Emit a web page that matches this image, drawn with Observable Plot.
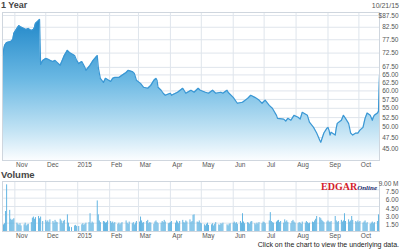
<!DOCTYPE html>
<html><head><meta charset="utf-8">
<script src="https://cdn.jsdelivr.net/npm/d3@7"></script>
<script src="https://cdn.jsdelivr.net/npm/@observablehq/plot@0.6"></script>
<style>
html,body{margin:0;padding:0;background:#fff;}
#wrap{position:relative;width:400px;height:249px;overflow:hidden;font-family:"Liberation Sans",Arial,sans-serif;}
.t{position:absolute;white-space:nowrap;line-height:1;}
#wrap svg{position:absolute;left:0;}
</style></head><body>
<div id="wrap">
  <div class="t" style="left:1px;top:1px;font-weight:bold;font-size:9px;color:#454545">1 Year</div>
  <div class="t" style="right:1px;top:2px;font-size:7px;color:#555">10/21/15</div>
  <div class="t" style="left:1px;top:170px;font-weight:bold;font-size:9.5px;color:#454545">Volume</div>
  <div class="t" style="right:23px;top:177px;font-family:'Liberation Serif',serif;font-weight:bold;"><span style="color:#d3202a;font-size:10px">EDGAR</span><span style="color:#1d2f6e;font-size:7px;font-style:italic">Online</span></div>
  <div class="t" style="right:1px;top:241px;font-size:7px;color:#222">Click on the chart to view the underlying data.</div>
</div>
<script>
// ---- data ----
const monthStarts = ["2014-11-01","2014-12-01","2015-01-01","2015-02-01","2015-03-01","2015-04-01","2015-05-01","2015-06-01","2015-07-01","2015-08-01","2015-09-01","2015-10-01"];
const monthLabels = ["Nov","Dec","2015","Feb","Mar","Apr","May","Jun","Jul","Aug","Sep","Oct"];
const priceTicks = [45, 47.5, 50, 52.5, 55, 57.5, 60, 62.5, 65, 67.5, 72.5, 77.5, 82.5, 87.5];
const volumeTicks = [1.5, 3, 4.5, 6, 7.5, 9];

const priceDates = ["2014-10-20","2014-10-22","2014-10-24","2014-10-28","2014-10-30","2014-10-31","2014-11-03","2014-11-05","2014-11-06","2014-11-10","2014-11-12","2014-11-14","2014-11-17","2014-11-19","2014-11-20","2014-11-21","2014-11-24","2014-11-25","2014-11-26","2014-11-28","2014-12-01","2014-12-04","2014-12-05","2014-12-08","2014-12-10","2014-12-12","2014-12-15","2014-12-17","2014-12-19","2014-12-22","2014-12-24","2014-12-29","2014-12-31","2015-01-02","2015-01-05","2015-01-08","2015-01-09","2015-01-13","2015-01-16","2015-01-20","2015-01-21","2015-01-23","2015-01-26","2015-01-28","2015-02-02","2015-02-04","2015-02-06","2015-02-10","2015-02-13","2015-02-17","2015-02-19","2015-02-23","2015-02-25","2015-02-27","2015-03-03","2015-03-06","2015-03-10","2015-03-13","2015-03-16","2015-03-18","2015-03-19","2015-03-20","2015-03-23","2015-03-25","2015-03-27","2015-04-01","2015-04-02","2015-04-08","2015-04-13","2015-04-16","2015-04-21","2015-04-24","2015-04-28","2015-04-30","2015-05-05","2015-05-08","2015-05-12","2015-05-15","2015-05-20","2015-05-22","2015-05-26","2015-05-27","2015-06-01","2015-06-05","2015-06-10","2015-06-15","2015-06-18","2015-06-22","2015-06-26","2015-06-29","2015-07-02","2015-07-06","2015-07-09","2015-07-13","2015-07-14","2015-07-20","2015-07-22","2015-07-24","2015-07-27","2015-07-30","2015-08-03","2015-08-05","2015-08-07","2015-08-12","2015-08-14","2015-08-18","2015-08-21","2015-08-24","2015-08-25","2015-08-28","2015-08-31","2015-09-01","2015-09-02","2015-09-03","2015-09-04","2015-09-08","2015-09-09","2015-09-10","2015-09-14","2015-09-16","2015-09-18","2015-09-21","2015-09-22","2015-09-23","2015-09-25","2015-09-28","2015-09-30","2015-10-02","2015-10-05","2015-10-07","2015-10-09","2015-10-12","2015-10-14","2015-10-15","2015-10-16","2015-10-19","2015-10-20","2015-10-21"];
const priceValues = [71.6,75.3,76.4,76.8,77.6,80.0,82.0,83.2,82.8,82.0,81.6,82.0,81.2,81.6,82.4,84.1,85.3,85.8,68.5,69.9,70.6,70.2,69.9,69.5,69.9,69.2,68.2,69.9,71.6,73.5,72.7,71.6,69.9,68.8,69.5,67.5,66.5,68.2,69.9,71.6,67.5,63.9,62.6,63.9,62.9,63.9,64.2,64.2,64.9,65.8,66.5,66.1,65.5,63.3,62.3,61.1,60.8,61.7,63.3,63.9,63.3,61.1,60.2,59.3,58.7,59.3,58.7,59.6,60.8,59.3,60.2,59.6,60.8,60.2,59.6,59.3,60.2,59.3,59.6,59.3,60.2,59.6,58.1,56.4,56.7,57.8,58.7,58.1,57.3,56.4,57.3,55.8,55.0,53.1,52.3,52.1,51.6,52.3,51.8,53.1,52.6,52.1,53.9,53.1,51.3,50.0,48.6,46.9,46.4,48.6,49.8,50.0,49.3,48.1,48.8,48.1,49.8,51.0,51.8,53.1,52.3,51.0,49.8,48.6,48.1,48.6,48.6,49.3,50.0,52.3,53.7,53.1,51.8,52.6,53.1,53.7,54.2,64.9];

// volume in millions, one value per trading day, month by month
const holidays = ["2014-11-27","2014-12-25","2015-01-01","2015-01-19","2015-02-16","2015-04-03","2015-05-25","2015-07-03","2015-09-07"];
const volOct14 = [1.2,1.4,3.6,8.4,3.8,2.2,2.0,2.1,2.3];
const volNov14 = [1.5,1.3,1.1,1.4,1.0,1.2,1.5,1.0,1.2,1.3,1.6,2.4,2.6,2.2,2.5,2.7,2.3,2.6,1.8];
const volDec14 = [2.0,1.7,1.9,1.6,2.1,1.8,1.5,2.0,1.7,1.6,2.2,1.9,1.4,1.8,2.0,3.0,1.5,0.8,0.7,1.0,1.1,0.9];
const volJan15 = [0.9,1.2,1.4,1.1,1.3,1.5,1.6,3.2,1.4,1.7,1.5,5.5,3.0,1.9,1.6,1.8,1.7,1.5,1.6,1.9];
const volFeb15 = [1.8,1.5,1.7,1.4,1.6,1.3,1.5,1.2,1.4,1.6,1.9,1.5,1.3,1.7,1.4,1.6,1.2,1.5,1.8];
const volMar15 = [1.7,2.6,1.9,1.5,1.6,1.8,2.0,1.4,1.6,1.5,1.3,1.7,1.9,1.6,1.4,1.5,1.8,1.6,2.0,1.7,1.4,1.5];
const volApr15 = [1.6,1.8,1.5,1.9,1.7,1.4,1.8,2.0,1.6,1.5,1.9,1.7,2.1,1.6,1.8,2.9,3.0,1.7,1.6,1.9,1.5];
const volMay15 = [1.4,1.2,1.0,1.3,1.5,1.1,1.2,1.4,1.0,1.3,1.6,1.2,1.1,1.4,1.3,1.5,1.2,1.0,1.3,1.4];
const volJun15 = [1.5,1.7,1.4,1.6,1.3,1.8,1.5,3.2,1.7,1.4,1.6,1.5,1.3,1.7,1.8,1.4,1.2,1.5,1.3,1.6,1.4,1.7];
const volJul15 = [1.6,1.4,1.9,3.4,1.8,1.6,1.5,1.7,1.9,2.0,1.6,1.8,1.5,2.1,1.7,1.9,1.6,1.4,1.8,2.0,1.7,1.5];
const volAug15 = [1.4,1.6,1.5,1.3,1.7,1.5,1.8,1.6,1.4,1.5,1.7,1.6,1.9,2.2,2.7,2.5,2.3,2.0,1.8,1.6,1.7];
const volSep15 = [1.9,1.7,1.6,1.8,2.7,1.9,1.6,1.8,2.0,1.7,1.9,3.2,1.8,2.1,1.7,1.9,2.7,2.0,1.8,1.6,1.9];
const volOct15 = [1.6,1.8,1.5,1.7,1.9,1.4,1.6,1.3,1.5,1.7,1.4,1.6,1.8,3.0,7.1];

// ---- build tables ----
const parse = d3.utcParse("%Y-%m-%d");
const priceData = priceDates.map((d, i) => ({date: parse(d), price: priceValues[i]}));
const hol = new Set(holidays);
const fmt = d3.utcFormat("%Y-%m-%d");
const tradingDays = d3.utcDay.range(parse("2014-10-21"), parse("2015-10-22"))
  .filter(d => d.getUTCDay() !== 0 && d.getUTCDay() !== 6 && !hol.has(fmt(d)));
const volumes = [].concat(volOct14, volNov14, volDec14, volJan15, volFeb15, volMar15, volApr15, volMay15, volJun15, volJul15, volAug15, volSep15, volOct15);
const volData = volumes.map((v, i) => ({date: tradingDays[i], vol: v})).filter(d => d.date);
const months = monthStarts.map(parse);

const xDomain = [parse("2014-10-20"), parse("2015-10-21")];
const yLo = 42.36, yHi = 88.82;
const gridColor = "#dfe5ec";
const style = {fontFamily: "'Liberation Sans', Arial, sans-serif", fontSize: "6.5px", color: "#555", background: "transparent", overflow: "visible"};

const monthText = Plot.text(months, {x: d => d, text: (d, i) => monthLabels[i], frameAnchor: "bottom", dx: 7, dy: 6, fill: "#555", fontSize: 6.5});

const price = Plot.plot({
  width: 400, height: 172,
  marginTop: 12, marginBottom: 12, marginLeft: 2, marginRight: 21,
  x: {type: "utc", domain: xDomain, axis: null},
  y: {type: "log", domain: [yLo, yHi], axis: null},
  style,
  marks: [
    Plot.gridY(priceTicks, {stroke: gridColor, strokeOpacity: 1}),
    Plot.gridX(months, {stroke: gridColor, strokeOpacity: 1}),
    Plot.areaY(priceData, {x: "date", y1: yLo, y2: "price", fill: "url(#pg)"}),
    Plot.line(priceData, {x: "date", y: "price", stroke: "#3a97d4", strokeWidth: 1.2}),
    Plot.frame({stroke: "#cfd6de"}),
    Plot.text(priceTicks, {y: d => d, text: d => (d === 87.5 ? "$" : "") + d.toFixed(2), frameAnchor: "right", textAnchor: "end", dx: 19, fill: "#555", fontSize: 6.5}),
    monthText
  ]
});
const ns = "http://www.w3.org/2000/svg";
const defs = document.createElementNS(ns, "defs");
defs.innerHTML = '<linearGradient id="pg" gradientUnits="userSpaceOnUse" x1="0" y1="12" x2="0" y2="160">' +
  '<stop offset="0" stop-color="#1982c6"/><stop offset="0.45" stop-color="#6ab8e3"/><stop offset="0.8" stop-color="#c2e3f4"/><stop offset="1" stop-color="#fbfdff"/></linearGradient>';
price.insertBefore(defs, price.firstChild);
price.style.top = "0px";

const volume = Plot.plot({
  width: 400, height: 72,
  marginTop: 11, marginBottom: 11, marginLeft: 2, marginRight: 21,
  x: {type: "utc", domain: xDomain, axis: null},
  y: {domain: [0, 9], axis: null},
  style,
  marks: [
    Plot.gridY(volumeTicks, {stroke: gridColor, strokeOpacity: 1}),
    Plot.gridX(months, {stroke: gridColor, strokeOpacity: 1}),
    Plot.ruleX(volData, {x: "date", y1: 0, y2: "vol", stroke: "#63b5e2", strokeWidth: 1}),
    Plot.frame({stroke: "#cfd6de"}),
    Plot.text(volumeTicks, {y: d => d, text: d => d.toFixed(2) + (d === 9 ? " M" : ""), frameAnchor: "right", textAnchor: "end", dx: 19, dy: 2, fill: "#555", fontSize: 6.5}),
    monthText
  ]
});
volume.style.top = "170px";
const wrap = document.getElementById("wrap");
wrap.insertBefore(volume, wrap.firstChild);
wrap.insertBefore(price, wrap.firstChild);
</script>
</body></html>
